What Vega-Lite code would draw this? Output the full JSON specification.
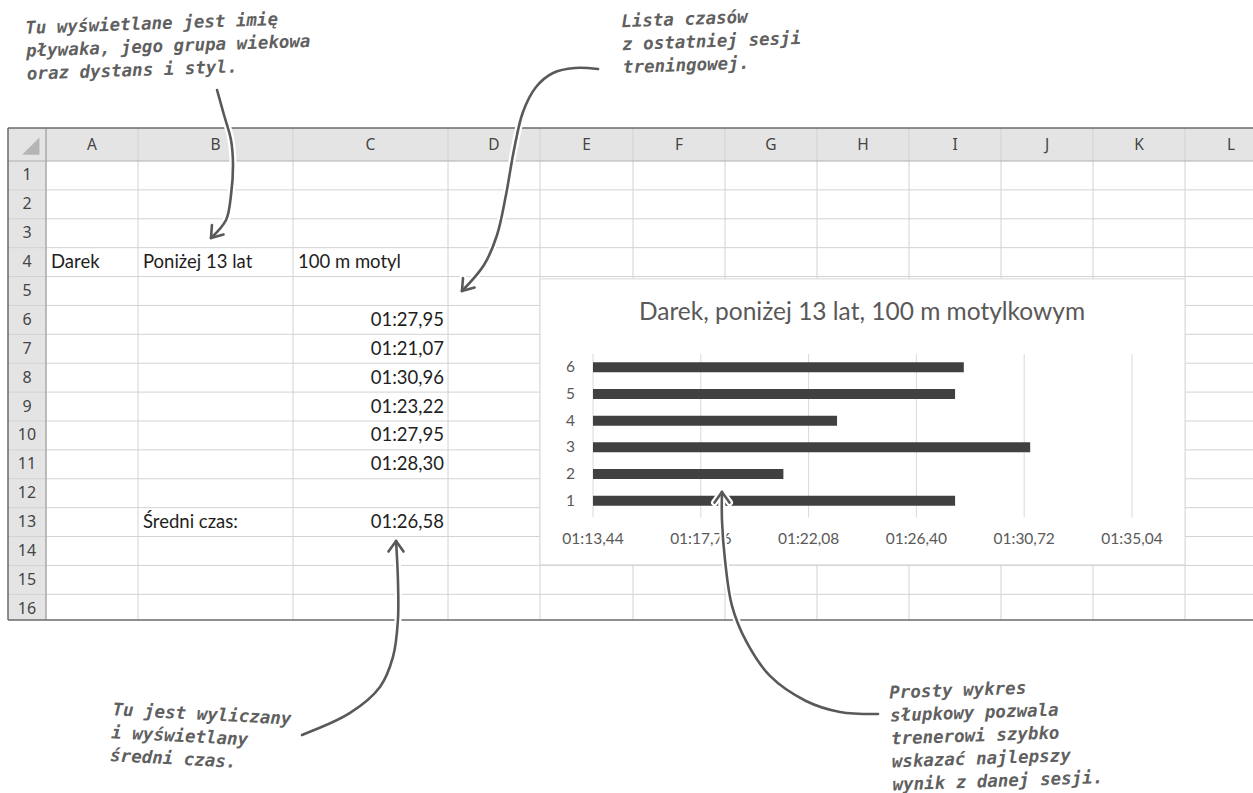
{
  "$schema": "https://vega.github.io/schema/vega-lite/v6.json",
  "width": 1253,
  "height": 793,
  "autosize": {"type": "none"},
  "padding": 0,
  "background": "#ffffff",
  "config": {"view": {"stroke": null}},
  "datasets": {
    "columns": [
      {"col": "A", "left": 1, "mid": 1.5, "right": 2},
      {"col": "B", "left": 2, "mid": 2.5, "right": 3},
      {"col": "C", "left": 3, "mid": 3.5, "right": 4},
      {"col": "D", "left": 4, "mid": 4.5, "right": 5},
      {"col": "E", "left": 5, "mid": 5.5, "right": 6},
      {"col": "F", "left": 6, "mid": 6.5, "right": 7},
      {"col": "G", "left": 7, "mid": 7.5, "right": 8},
      {"col": "H", "left": 8, "mid": 8.5, "right": 9},
      {"col": "I", "left": 9, "mid": 9.5, "right": 10},
      {"col": "J", "left": 10, "mid": 10.5, "right": 11},
      {"col": "K", "left": 11, "mid": 11.5, "right": 12},
      {"col": "L", "left": 12, "mid": 12.5, "right": 13}
    ],
    "rows": [
      {"row": 1, "bottom": 1.5}, {"row": 2, "bottom": 2.5}, {"row": 3, "bottom": 3.5}, {"row": 4, "bottom": 4.5},
      {"row": 5, "bottom": 5.5}, {"row": 6, "bottom": 6.5}, {"row": 7, "bottom": 7.5}, {"row": 8, "bottom": 8.5},
      {"row": 9, "bottom": 9.5}, {"row": 10, "bottom": 10.5}, {"row": 11, "bottom": 11.5}, {"row": 12, "bottom": 12.5},
      {"row": 13, "bottom": 13.5}, {"row": 14, "bottom": 14.5}, {"row": 15, "bottom": 15.5}, {"row": 16, "bottom": 16.5}
    ],
    "cells": [
      {"col": "A", "row": 4, "value": "Darek", "kind": "text"},
      {"col": "B", "row": 4, "value": "Poniżej 13 lat", "kind": "text"},
      {"col": "C", "row": 4, "value": "100 m motyl", "kind": "text"},
      {"col": "B", "row": 13, "value": "Średni czas:", "kind": "text"},
      {"col": "C", "row": 13, "value": "01:26,58", "kind": "time"}
    ],
    "sessions": [
      {"session": 1, "row": 6, "time": "01:27,95", "seconds": 87.95},
      {"session": 2, "row": 7, "time": "01:21,07", "seconds": 81.07},
      {"session": 3, "row": 8, "time": "01:30,96", "seconds": 90.96},
      {"session": 4, "row": 9, "time": "01:23,22", "seconds": 83.22},
      {"session": 5, "row": 10, "time": "01:27,95", "seconds": 87.95},
      {"session": 6, "row": 11, "time": "01:28,30", "seconds": 88.30}
    ],
    "ticks": [
      {"seconds": 73.44, "label": "01:13,44"},
      {"seconds": 77.76, "label": "01:17,76"},
      {"seconds": 82.08, "label": "01:22,08"},
      {"seconds": 86.40, "label": "01:26,40"},
      {"seconds": 90.72, "label": "01:30,72"},
      {"seconds": 95.04, "label": "01:35,04"}
    ],
    "notes": [
      {"note": "tl", "col": 0.447, "row": -3.78, "text": "Tu wyświetlane jest imię\npływaka, jego grupa wiekowa\noraz dystans i styl."},
      {"note": "tr", "col": 5.871, "row": -3.98, "text": "Lista czasów\nz ostatniej sesji\ntreningowej."},
      {"note": "bl", "col": 1.728, "row": 19.2, "text": "Tu jest wyliczany\ni wyświetlany\nśredni czas."},
      {"note": "br", "col": 8.783, "row": 18.62, "text": "Prosty wykres\nsłupkowy pozwala\ntrenerowi szybko\nwskazać najlepszy\nwynik z danej sesji."}
    ],
    "arrows": [
      {"arrow": "a1", "part": "shaft", "i": 0, "col": 2.510, "row": -1.652},
      {"arrow": "a1", "part": "shaft", "i": 1, "col": 2.555, "row": -0.894},
      {"arrow": "a1", "part": "shaft", "i": 2, "col": 2.600, "row": -0.136},
      {"arrow": "a1", "part": "shaft", "i": 3, "col": 2.613, "row": 0.638},
      {"arrow": "a1", "part": "shaft", "i": 4, "col": 2.600, "row": 1.677},
      {"arrow": "a1", "part": "shaft", "i": 5, "col": 2.568, "row": 2.542},
      {"arrow": "a1", "part": "shaft", "i": 6, "col": 2.471, "row": 3.165},
      {"arrow": "a1", "part": "barb1", "i": 0, "col": 2.471, "row": 3.165},
      {"arrow": "a1", "part": "barb1", "i": 1, "col": 2.477, "row": 2.715},
      {"arrow": "a1", "part": "barb2", "i": 0, "col": 2.471, "row": 3.165},
      {"arrow": "a1", "part": "barb2", "i": 1, "col": 2.552, "row": 3.048},
      {"arrow": "a2", "part": "shaft", "i": 0, "col": 5.624, "row": -2.288},
      {"arrow": "a2", "part": "shaft", "i": 1, "col": 5.376, "row": -2.318},
      {"arrow": "a2", "part": "shaft", "i": 2, "col": 5.140, "row": -2.167},
      {"arrow": "a2", "part": "shaft", "i": 3, "col": 4.957, "row": -1.742},
      {"arrow": "a2", "part": "shaft", "i": 4, "col": 4.815, "row": -0.985},
      {"arrow": "a2", "part": "shaft", "i": 5, "col": 4.717, "row": 0.167},
      {"arrow": "a2", "part": "shaft", "i": 6, "col": 4.630, "row": 1.677},
      {"arrow": "a2", "part": "shaft", "i": 7, "col": 4.533, "row": 3.061},
      {"arrow": "a2", "part": "shaft", "i": 8, "col": 4.391, "row": 4.100},
      {"arrow": "a2", "part": "shaft", "i": 9, "col": 4.152, "row": 5.000},
      {"arrow": "a2", "part": "barb1", "i": 0, "col": 4.152, "row": 5.000},
      {"arrow": "a2", "part": "barb1", "i": 1, "col": 4.163, "row": 4.550},
      {"arrow": "a2", "part": "barb2", "i": 0, "col": 4.152, "row": 5.000},
      {"arrow": "a2", "part": "barb2", "i": 1, "col": 4.289, "row": 4.882},
      {"arrow": "a3", "part": "shaft", "i": 0, "col": 3.058, "row": 20.368},
      {"arrow": "a3", "part": "shaft", "i": 1, "col": 3.368, "row": 19.607},
      {"arrow": "a3", "part": "shaft", "i": 2, "col": 3.561, "row": 18.707},
      {"arrow": "a3", "part": "shaft", "i": 3, "col": 3.645, "row": 17.669},
      {"arrow": "a3", "part": "shaft", "i": 4, "col": 3.677, "row": 16.388},
      {"arrow": "a3", "part": "shaft", "i": 5, "col": 3.677, "row": 15.003},
      {"arrow": "a3", "part": "shaft", "i": 6, "col": 3.665, "row": 13.653},
      {"arrow": "a3", "part": "barb1", "i": 0, "col": 3.665, "row": 13.653},
      {"arrow": "a3", "part": "barb1", "i": 1, "col": 3.616, "row": 14.020},
      {"arrow": "a3", "part": "barb2", "i": 0, "col": 3.665, "row": 13.653},
      {"arrow": "a3", "part": "barb2", "i": 1, "col": 3.713, "row": 14.020},
      {"arrow": "a4", "part": "shaft", "i": 0, "col": 8.663, "row": 19.642},
      {"arrow": "a4", "part": "shaft", "i": 1, "col": 8.250, "row": 19.572},
      {"arrow": "a4", "part": "shaft", "i": 2, "col": 7.880, "row": 19.192},
      {"arrow": "a4", "part": "shaft", "i": 3, "col": 7.489, "row": 18.326},
      {"arrow": "a4", "part": "shaft", "i": 4, "col": 7.228, "row": 17.115},
      {"arrow": "a4", "part": "shaft", "i": 5, "col": 7.076, "row": 15.903},
      {"arrow": "a4", "part": "shaft", "i": 6, "col": 7.000, "row": 14.311},
      {"arrow": "a4", "part": "shaft", "i": 7, "col": 6.967, "row": 12.927},
      {"arrow": "a4", "part": "shaft", "i": 8, "col": 6.967, "row": 11.957},
      {"arrow": "a4", "part": "barb1", "i": 0, "col": 6.967, "row": 11.957},
      {"arrow": "a4", "part": "barb1", "i": 1, "col": 6.886, "row": 12.324},
      {"arrow": "a4", "part": "barb2", "i": 0, "col": 6.967, "row": 11.957},
      {"arrow": "a4", "part": "barb2", "i": 1, "col": 7.049, "row": 12.324}
    ]
  },
  "layer": [
    {
      "layer": [
        {
          "data": {"values": [{"area": "column headers"}]},
          "mark": {"type": "rect", "fill": "#e4e4e4"},
          "encoding": {
            "x": {"datum": 0, "type": "quantitative", "scale": {"type": "linear", "domain": [0,1,2,3,4,5,6,7,8,9,10,11,12,13], "range": [8,46,138,293,448,540,633,725,817,909,1001,1093,1185,1277], "nice": false, "zero": false}, "axis": null},
            "x2": {"datum": 13.9},
            "y": {"datum": -0.5, "type": "quantitative", "scale": {"type": "linear", "domain": [-0.5, 0.5, 16.5], "range": [128, 161, 623.2], "nice": false, "zero": false}, "axis": null},
            "y2": {"datum": 0.5}
          }
        },
        {
          "data": {"values": [{"area": "row headers"}]},
          "mark": {"type": "rect", "fill": "#e4e4e4"},
          "encoding": {
            "x": {"datum": 0, "type": "quantitative", "scale": {"type": "linear", "domain": [0,1,2,3,4,5,6,7,8,9,10,11,12,13], "range": [8,46,138,293,448,540,633,725,817,909,1001,1093,1185,1277], "nice": false, "zero": false}, "axis": null},
            "x2": {"datum": 1},
            "y": {"datum": 0.5, "type": "quantitative", "scale": {"type": "linear", "domain": [-0.5, 0.5, 16.5], "range": [128, 161, 623.2], "nice": false, "zero": false}, "axis": null},
            "y2": {"datum": 16.39}
          }
        },
        {
          "data": {"name": "columns"},
          "mark": {"type": "rule", "color": "#d2d2d2", "strokeWidth": 1},
          "encoding": {
            "x": {"field": "left", "type": "quantitative", "scale": {"type": "linear", "domain": [0,1,2,3,4,5,6,7,8,9,10,11,12,13], "range": [8,46,138,293,448,540,633,725,817,909,1001,1093,1185,1277], "nice": false, "zero": false}, "axis": null},
            "y": {"datum": -0.5, "type": "quantitative", "scale": {"type": "linear", "domain": [-0.5, 0.5, 16.5], "range": [128, 161, 623.2], "nice": false, "zero": false}, "axis": null},
            "y2": {"datum": 16.39}
          }
        },
        {
          "data": {"name": "rows"},
          "transform": [{"filter": "datum.row < 16"}],
          "mark": {"type": "rule", "color": "#d2d2d2", "strokeWidth": 1},
          "encoding": {
            "x": {"datum": 0, "type": "quantitative", "scale": {"type": "linear", "domain": [0,1,2,3,4,5,6,7,8,9,10,11,12,13], "range": [8,46,138,293,448,540,633,725,817,909,1001,1093,1185,1277], "nice": false, "zero": false}, "axis": null},
            "x2": {"datum": 13.9},
            "y": {"field": "bottom", "type": "quantitative", "scale": {"type": "linear", "domain": [-0.5, 0.5, 16.5], "range": [128, 161, 623.2], "nice": false, "zero": false}, "axis": null}
          }
        },
        {
          "data": {"values": [{"line": "header bottom"}]},
          "mark": {"type": "rule", "color": "#b0b0b0", "strokeWidth": 1},
          "encoding": {
            "x": {"datum": 0, "type": "quantitative", "scale": {"type": "linear", "domain": [0,1,2,3,4,5,6,7,8,9,10,11,12,13], "range": [8,46,138,293,448,540,633,725,817,909,1001,1093,1185,1277], "nice": false, "zero": false}, "axis": null},
            "x2": {"datum": 13.9},
            "y": {"datum": 0.5, "type": "quantitative", "scale": {"type": "linear", "domain": [-0.5, 0.5, 16.5], "range": [128, 161, 623.2], "nice": false, "zero": false}, "axis": null}
          }
        },
        {
          "data": {"values": [{"line": "row header edge"}]},
          "mark": {"type": "rule", "color": "#a0a0a0", "strokeWidth": 1.2},
          "encoding": {
            "x": {"datum": 1, "type": "quantitative", "scale": {"type": "linear", "domain": [0,1,2,3,4,5,6,7,8,9,10,11,12,13], "range": [8,46,138,293,448,540,633,725,817,909,1001,1093,1185,1277], "nice": false, "zero": false}, "axis": null},
            "y": {"datum": -0.5, "type": "quantitative", "scale": {"type": "linear", "domain": [-0.5, 0.5, 16.5], "range": [128, 161, 623.2], "nice": false, "zero": false}, "axis": null},
            "y2": {"datum": 16.39}
          }
        },
        {
          "data": {"values": [{"line": "top border"}]},
          "mark": {"type": "rule", "color": "#6a6a6a", "strokeWidth": 1.5},
          "encoding": {
            "x": {"datum": 0, "type": "quantitative", "scale": {"type": "linear", "domain": [0,1,2,3,4,5,6,7,8,9,10,11,12,13], "range": [8,46,138,293,448,540,633,725,817,909,1001,1093,1185,1277], "nice": false, "zero": false}, "axis": null},
            "x2": {"datum": 13.9},
            "y": {"datum": -0.5, "type": "quantitative", "scale": {"type": "linear", "domain": [-0.5, 0.5, 16.5], "range": [128, 161, 623.2], "nice": false, "zero": false}, "axis": null}
          }
        },
        {
          "data": {"values": [{"line": "bottom border"}]},
          "mark": {"type": "rule", "color": "#6a6a6a", "strokeWidth": 1.5},
          "encoding": {
            "x": {"datum": 0, "type": "quantitative", "scale": {"type": "linear", "domain": [0,1,2,3,4,5,6,7,8,9,10,11,12,13], "range": [8,46,138,293,448,540,633,725,817,909,1001,1093,1185,1277], "nice": false, "zero": false}, "axis": null},
            "x2": {"datum": 13.9},
            "y": {"datum": 16.39, "type": "quantitative", "scale": {"type": "linear", "domain": [-0.5, 0.5, 16.5], "range": [128, 161, 623.2], "nice": false, "zero": false}, "axis": null}
          }
        },
        {
          "data": {"values": [{"line": "left border"}]},
          "mark": {"type": "rule", "color": "#6a6a6a", "strokeWidth": 1.5},
          "encoding": {
            "x": {"datum": 0, "type": "quantitative", "scale": {"type": "linear", "domain": [0,1,2,3,4,5,6,7,8,9,10,11,12,13], "range": [8,46,138,293,448,540,633,725,817,909,1001,1093,1185,1277], "nice": false, "zero": false}, "axis": null},
            "y": {"datum": -0.5, "type": "quantitative", "scale": {"type": "linear", "domain": [-0.5, 0.5, 16.5], "range": [128, 161, 623.2], "nice": false, "zero": false}, "axis": null},
            "y2": {"datum": 16.39}
          }
        },
        {
          "data": {"values": [{"cell": "select all"}]},
          "mark": {"type": "point", "shape": "M 1 -1 L 1 1 L -1 1 Z", "filled": true, "color": "#b5b5b5", "opacity": 1, "size": 300},
          "encoding": {
            "x": {"datum": 0.6, "type": "quantitative", "scale": {"type": "linear", "domain": [0,1,2,3,4,5,6,7,8,9,10,11,12,13], "range": [8,46,138,293,448,540,633,725,817,909,1001,1093,1185,1277], "nice": false, "zero": false}, "axis": null},
            "y": {"datum": 0.05, "type": "quantitative", "scale": {"type": "linear", "domain": [-0.5, 0.5, 16.5], "range": [128, 161, 623.2], "nice": false, "zero": false}, "axis": null}
          }
        },
        {
          "data": {"name": "columns"},
          "mark": {"type": "text", "align": "center", "baseline": "middle", "font": "Noto Sans", "fontSize": 15.5, "color": "#444444"},
          "encoding": {
            "x": {"field": "mid", "type": "quantitative", "scale": {"type": "linear", "domain": [0,1,2,3,4,5,6,7,8,9,10,11,12,13], "range": [8,46,138,293,448,540,633,725,817,909,1001,1093,1185,1277], "nice": false, "zero": false}, "axis": null},
            "y": {"datum": 0, "type": "quantitative", "scale": {"type": "linear", "domain": [-0.5, 0.5, 16.5], "range": [128, 161, 623.2], "nice": false, "zero": false}, "axis": null},
            "text": {"field": "col"}
          }
        },
        {
          "data": {"name": "rows"},
          "mark": {"type": "text", "align": "center", "baseline": "middle", "font": "Noto Sans", "fontSize": 16, "color": "#444444"},
          "encoding": {
            "x": {"datum": 0.5, "type": "quantitative", "scale": {"type": "linear", "domain": [0,1,2,3,4,5,6,7,8,9,10,11,12,13], "range": [8,46,138,293,448,540,633,725,817,909,1001,1093,1185,1277], "nice": false, "zero": false}, "axis": null},
            "y": {"field": "row", "type": "quantitative", "scale": {"type": "linear", "domain": [-0.5, 0.5, 16.5], "range": [128, 161, 623.2], "nice": false, "zero": false}, "axis": null},
            "text": {"field": "row"}
          }
        },
        {
          "data": {"name": "cells"},
          "transform": [
            {"filter": "datum.kind == 'text'"},
            {"lookup": "col", "from": {"data": {"name": "columns"}, "key": "col", "fields": ["left", "right"]}}
          ],
          "mark": {"type": "text", "align": "left", "baseline": "middle", "dx": 5, "font": "Lato", "fontSize": 18.5, "color": "#1e1e1e"},
          "encoding": {
            "x": {"field": "left", "type": "quantitative", "scale": {"type": "linear", "domain": [0,1,2,3,4,5,6,7,8,9,10,11,12,13], "range": [8,46,138,293,448,540,633,725,817,909,1001,1093,1185,1277], "nice": false, "zero": false}, "axis": null},
            "y": {"field": "row", "type": "quantitative", "scale": {"type": "linear", "domain": [-0.5, 0.5, 16.5], "range": [128, 161, 623.2], "nice": false, "zero": false}, "axis": null},
            "text": {"field": "value"}
          }
        },
        {
          "data": {"name": "cells"},
          "transform": [
            {"filter": "datum.kind == 'time'"},
            {"lookup": "col", "from": {"data": {"name": "columns"}, "key": "col", "fields": ["left", "right"]}}
          ],
          "mark": {"type": "text", "align": "right", "baseline": "middle", "dx": -4, "font": "Lato", "fontSize": 18.5, "color": "#1e1e1e"},
          "encoding": {
            "x": {"field": "right", "type": "quantitative", "scale": {"type": "linear", "domain": [0,1,2,3,4,5,6,7,8,9,10,11,12,13], "range": [8,46,138,293,448,540,633,725,817,909,1001,1093,1185,1277], "nice": false, "zero": false}, "axis": null},
            "y": {"field": "row", "type": "quantitative", "scale": {"type": "linear", "domain": [-0.5, 0.5, 16.5], "range": [128, 161, 623.2], "nice": false, "zero": false}, "axis": null},
            "text": {"field": "value"}
          }
        },
        {
          "data": {"name": "sessions"},
          "mark": {"type": "text", "align": "right", "baseline": "middle", "dx": -4, "font": "Lato", "fontSize": 18.5, "color": "#1e1e1e"},
          "encoding": {
            "x": {"datum": 4, "type": "quantitative", "scale": {"type": "linear", "domain": [0,1,2,3,4,5,6,7,8,9,10,11,12,13], "range": [8,46,138,293,448,540,633,725,817,909,1001,1093,1185,1277], "nice": false, "zero": false}, "axis": null},
            "y": {"field": "row", "type": "quantitative", "scale": {"type": "linear", "domain": [-0.5, 0.5, 16.5], "range": [128, 161, 623.2], "nice": false, "zero": false}, "axis": null},
            "text": {"field": "time"}
          }
        },
        {
          "data": {"values": [{"object": "chart area"}]},
          "mark": {"type": "rect", "fill": "#ffffff", "stroke": "#d9d9d9", "strokeWidth": 1},
          "encoding": {
            "x": {"datum": 5, "type": "quantitative", "scale": {"type": "linear", "domain": [0,1,2,3,4,5,6,7,8,9,10,11,12,13], "range": [8,46,138,293,448,540,633,725,817,909,1001,1093,1185,1277], "nice": false, "zero": false}, "axis": null},
            "x2": {"datum": 12},
            "y": {"datum": 4.58, "type": "quantitative", "scale": {"type": "linear", "domain": [-0.5, 0.5, 16.5], "range": [128, 161, 623.2], "nice": false, "zero": false}, "axis": null},
            "y2": {"datum": 14.48}
          }
        },
        {
          "data": {"values": [{"title": "Darek, poniżej 13 lat, 100 m motylkowym"}]},
          "mark": {"type": "text", "align": "center", "baseline": "middle", "font": "Lato", "fontSize": 24.5, "color": "#595959"},
          "encoding": {
            "x": {"datum": 8.489, "type": "quantitative", "scale": {"type": "linear", "domain": [0,1,2,3,4,5,6,7,8,9,10,11,12,13], "range": [8,46,138,293,448,540,633,725,817,909,1001,1093,1185,1277], "nice": false, "zero": false}, "axis": null},
            "y": {"datum": 5.761, "type": "quantitative", "scale": {"type": "linear", "domain": [-0.5, 0.5, 16.5], "range": [128, 161, 623.2], "nice": false, "zero": false}, "axis": null},
            "text": {"field": "title"}
          }
        }
      ]
    },
    {
      "layer": [
        {
          "data": {"name": "ticks"},
          "mark": {"type": "rule", "color": "#d9d9d9", "strokeWidth": 1},
          "encoding": {
            "x": {"field": "seconds", "type": "quantitative", "scale": {"type": "linear", "domain": [73.44, 95.04], "range": [593, 1132], "nice": false, "zero": false}, "axis": null},
            "y": {"datum": 6.5, "type": "quantitative", "scale": {"type": "linear", "domain": [0.5, 6.5], "range": [519.2, 348.8], "nice": false, "zero": false}, "axis": null},
            "y2": {"datum": 0.38}
          }
        },
        {
          "data": {"name": "sessions"},
          "mark": {"type": "bar", "orient": "horizontal", "size": 10, "color": "#404040"},
          "encoding": {
            "x": {"field": "seconds", "type": "quantitative", "scale": {"type": "linear", "domain": [73.44, 95.04], "range": [593, 1132], "nice": false, "zero": false}, "axis": null},
            "x2": {"datum": 73.44},
            "y": {"field": "session", "type": "quantitative", "scale": {"type": "linear", "domain": [0.5, 6.5], "range": [519.2, 348.8], "nice": false, "zero": false}, "axis": null}
          }
        },
        {
          "data": {"name": "sessions"},
          "mark": {"type": "text", "align": "right", "baseline": "middle", "dx": -18, "font": "Lato", "fontSize": 15.5, "color": "#595959"},
          "encoding": {
            "x": {"datum": 73.44, "type": "quantitative", "scale": {"type": "linear", "domain": [73.44, 95.04], "range": [593, 1132], "nice": false, "zero": false}, "axis": null},
            "y": {"field": "session", "type": "quantitative", "scale": {"type": "linear", "domain": [0.5, 6.5], "range": [519.2, 348.8], "nice": false, "zero": false}, "axis": null},
            "text": {"field": "session"}
          }
        },
        {
          "data": {"name": "ticks"},
          "mark": {"type": "text", "align": "center", "baseline": "middle", "font": "Lato", "fontSize": 15.5, "color": "#595959"},
          "encoding": {
            "x": {"field": "seconds", "type": "quantitative", "scale": {"type": "linear", "domain": [73.44, 95.04], "range": [593, 1132], "nice": false, "zero": false}, "axis": null},
            "y": {"datum": -0.41, "type": "quantitative", "scale": {"type": "linear", "domain": [0.5, 6.5], "range": [519.2, 348.8], "nice": false, "zero": false}, "axis": null},
            "text": {"field": "label"}
          }
        }
      ]
    },
    {
      "layer": [
        {
          "data": {"name": "arrows"},
          "mark": {"type": "line", "color": "#ffffff", "strokeWidth": 7, "interpolate": "catmull-rom", "strokeCap": "round", "strokeJoin": "round"},
          "encoding": {
            "x": {"field": "col", "type": "quantitative", "scale": {"type": "linear", "domain": [0,1,2,3,4,5,6,7,8,9,10,11,12,13], "range": [8,46,138,293,448,540,633,725,817,909,1001,1093,1185,1277], "nice": false, "zero": false}, "axis": null},
            "y": {"field": "row", "type": "quantitative", "scale": {"type": "linear", "domain": [-0.5, 0.5, 16.5], "range": [128, 161, 623.2], "nice": false, "zero": false}, "axis": null},
            "detail": [{"field": "arrow"}, {"field": "part"}],
            "order": {"field": "i", "type": "quantitative"}
          }
        },
        {
          "data": {"name": "arrows"},
          "mark": {"type": "line", "color": "#595959", "strokeWidth": 2.6, "interpolate": "catmull-rom", "strokeCap": "round", "strokeJoin": "round"},
          "encoding": {
            "x": {"field": "col", "type": "quantitative", "scale": {"type": "linear", "domain": [0,1,2,3,4,5,6,7,8,9,10,11,12,13], "range": [8,46,138,293,448,540,633,725,817,909,1001,1093,1185,1277], "nice": false, "zero": false}, "axis": null},
            "y": {"field": "row", "type": "quantitative", "scale": {"type": "linear", "domain": [-0.5, 0.5, 16.5], "range": [128, 161, 623.2], "nice": false, "zero": false}, "axis": null},
            "detail": [{"field": "arrow"}, {"field": "part"}],
            "order": {"field": "i", "type": "quantitative"}
          }
        },
        {
          "data": {"name": "notes"},
          "transform": [{"filter": "datum.note != 'bl'"}],
          "mark": {"type": "text", "align": "left", "baseline": "top", "angle": 358, "lineBreak": "\n", "lineHeight": 23, "font": "DejaVu Sans Mono", "fontWeight": "bold", "fontStyle": "italic", "fontSize": 17.5, "color": "#606060"},
          "encoding": {
            "x": {"field": "col", "type": "quantitative", "scale": {"type": "linear", "domain": [0,1,2,3,4,5,6,7,8,9,10,11,12,13], "range": [8,46,138,293,448,540,633,725,817,909,1001,1093,1185,1277], "nice": false, "zero": false}, "axis": null},
            "y": {"field": "row", "type": "quantitative", "scale": {"type": "linear", "domain": [-0.5, 0.5, 16.5], "range": [128, 161, 623.2], "nice": false, "zero": false}, "axis": null},
            "text": {"field": "text"}
          }
        },
        {
          "data": {"name": "notes"},
          "transform": [{"filter": "datum.note == 'bl'"}],
          "mark": {"type": "text", "align": "left", "baseline": "top", "angle": 3, "lineBreak": "\n", "lineHeight": 23, "font": "DejaVu Sans Mono", "fontWeight": "bold", "fontStyle": "italic", "fontSize": 17.5, "color": "#606060"},
          "encoding": {
            "x": {"field": "col", "type": "quantitative", "scale": {"type": "linear", "domain": [0,1,2,3,4,5,6,7,8,9,10,11,12,13], "range": [8,46,138,293,448,540,633,725,817,909,1001,1093,1185,1277], "nice": false, "zero": false}, "axis": null},
            "y": {"field": "row", "type": "quantitative", "scale": {"type": "linear", "domain": [-0.5, 0.5, 16.5], "range": [128, 161, 623.2], "nice": false, "zero": false}, "axis": null},
            "text": {"field": "text"}
          }
        }
      ]
    }
  ],
  "resolve": {"scale": {"x": "independent", "y": "independent"}}
}
